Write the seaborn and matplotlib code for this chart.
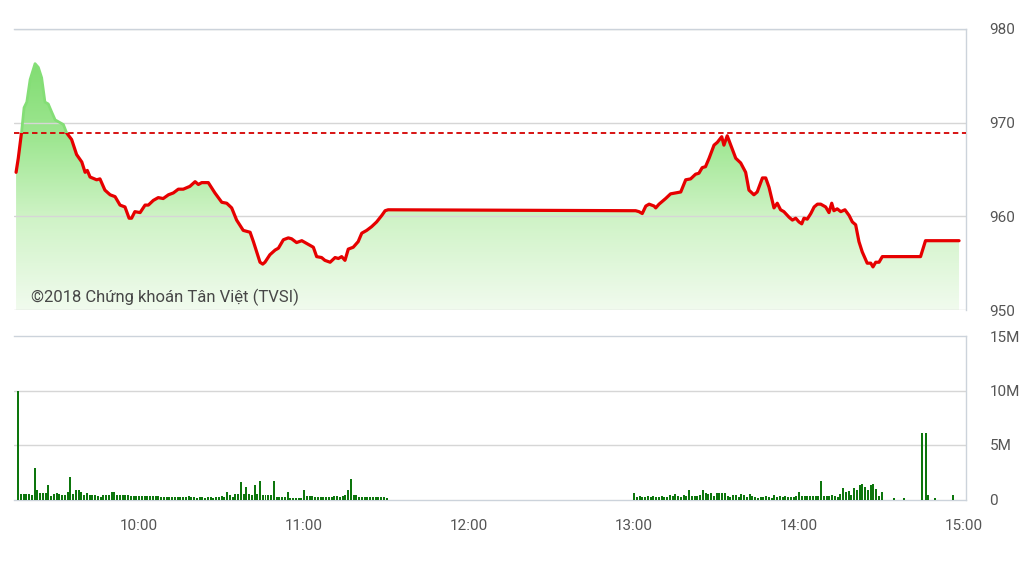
import numpy as np
import matplotlib
matplotlib.use("Agg")
import matplotlib.pyplot as plt
import seaborn as sns
from matplotlib.patches import Rectangle, Polygon
from matplotlib.colors import LinearSegmentedColormap

# ---------------- DATA ----------------
# price: minutes after 09:15 and index value
price_min = [0.3, 1.1, 2.3, 3.2, 4.2, 5.4, 7.2, 8.4, 9.6, 10.8, 12.0, 13.3, 14.5, 16.3, 17.5, 18.7,
             20.5, 22.3, 24.2, 25.4, 26.2, 27.2, 29.6, 30.8, 32.6, 34.5, 36.3, 38.1, 39.9, 41.4, 42.3,
             43.5, 45.4, 47.2, 48.4, 50.2, 52.0, 53.8, 55.7, 57.5, 59.3, 61.1, 63.5, 65.4, 66.6, 67.8,
             70.2, 72.6, 75.1, 76.9, 78.7, 80.5, 82.9, 85.4, 86.6, 87.8, 89.0, 90.0, 90.8, 92.6, 94.5,
             95.7, 97.5, 99.3, 100.5, 102.3, 104.2, 105.4, 107.2, 108.4, 109.6, 111.4, 112.6, 114.5,
             116.3, 117.5, 118.7, 119.9, 121.1, 122.9, 124.7, 126.0, 127.8, 129.6, 131.4, 133.3, 134.5,
             135.6, 224.5,
             225.6, 226.8, 228.0, 229.3, 230.5, 232.3, 232.9, 234.1, 236.5, 238.3, 240.1, 242.0, 243.8,
             245.6, 247.4, 248.6, 249.8, 251.0, 252.3, 254.1, 255.3, 256.9, 257.7, 258.9, 260.2, 262.0,
             263.8, 265.6, 266.8, 268.6, 269.8, 271.7, 272.9, 274.1, 275.9, 277.1, 278.3, 279.5, 281.4,
             282.6, 283.8, 285.0, 286.0, 286.8, 288.0, 289.3, 290.5, 291.7, 292.9, 294.7, 295.9, 296.9,
             297.7, 298.9, 300.2, 301.7, 303.2, 304.4, 305.6, 306.8, 308.0, 309.8, 311.1, 311.9, 312.9,
             314.1, 315.3, 329.2, 331.0, 343.2]
price_val = [964.7, 966.2, 969.0, 971.6, 972.2, 974.6, 976.3, 975.9, 974.8, 972.2, 972.0, 971.1, 970.3,
             970.0, 969.8, 968.9, 968.2, 966.6, 965.8, 964.7, 964.9, 964.2, 963.9, 964.0, 962.8, 962.3,
             962.1, 961.2, 961.0, 959.8, 959.8, 960.5, 960.4, 961.2, 961.2, 961.7, 962.0, 961.9, 962.3,
             962.5, 962.9, 962.9, 963.2, 963.7, 963.4, 963.6, 963.6, 962.5, 961.5, 961.4, 960.9, 959.6,
             958.5, 958.3, 957.3, 956.2, 955.1, 954.9, 955.1, 955.9, 956.4, 956.6, 957.5, 957.7, 957.6,
             957.2, 957.4, 957.2, 956.9, 956.7, 955.7, 955.6, 955.3, 955.1, 955.6, 955.5, 955.7, 955.3,
             956.5, 956.7, 957.3, 958.2, 958.5, 958.9, 959.4, 960.1, 960.6, 960.7, 960.6,
             960.6, 960.5, 960.3, 961.1, 961.3, 961.1, 960.9, 961.3, 961.9, 962.4, 962.5, 962.6, 963.9,
             964.0, 964.5, 964.6, 965.2, 965.3, 966.2, 967.6, 967.9, 968.5, 967.6, 968.6, 967.6, 966.2,
             965.7, 964.7, 962.8, 962.3, 962.6, 964.1, 964.1, 963.1, 960.9, 961.4, 960.7, 960.5, 959.9,
             959.6, 959.8, 959.4, 959.2, 959.8, 959.7, 960.3, 961.0, 961.3, 961.3, 961.0, 960.4, 961.4,
             960.6, 960.8, 960.5, 960.7, 960.1, 959.4, 959.1, 957.3, 956.2, 955.0, 955.0, 954.6, 955.1,
             955.1, 955.7, 955.7, 957.4, 957.4]
ref_price = 968.9

# volume (millions): morning per minute 09:16..11:30
vol_am = [10.0, 0.55, 0.55, 0.55, 0.5, 0.4, 2.9, 0.85, 0.6, 0.6,
          0.6, 1.3, 0.3, 0.55, 0.6, 0.55, 0.4, 0.4, 0.7, 2.1,
          0.55, 0.85, 0.85, 0.7, 0.4, 0.6, 0.4, 0.4, 0.4, 0.3,
          0.25, 0.45, 0.4, 0.4, 0.65, 0.65, 0.4, 0.4, 0.4, 0.4,
          0.4, 0.3, 0.35, 0.35, 0.3, 0.35, 0.35, 0.3, 0.35, 0.35,
          0.3, 0.35, 0.25, 0.25, 0.2, 0.25, 0.25, 0.2, 0.25, 0.25,
          0.2, 0.25, 0.3, 0.2, 0.2, 0.15, 0.2, 0.2, 0.15, 0.2,
          0.2, 0.15, 0.2, 0.2, 0.35, 0.2, 0.67, 0.4, 0.25, 0.55,
          0.55, 1.6, 0.55, 1.15, 0.55, 0.4, 1.3, 0.55, 1.7, 0.4,
          0.4, 0.4, 0.4, 1.7, 0.2, 0.25, 0.25, 0.25, 0.67, 0.15,
          0.15, 0.15, 0.15, 0.1, 0.85, 0.35, 0.35, 0.35, 0.25, 0.25,
          0.2, 0.25, 0.25, 0.2, 0.25, 0.3, 0.3, 0.25, 0.3, 0.4,
          0.85, 1.85, 0.4, 0.4, 0.2, 0.25, 0.2, 0.25, 0.25, 0.2,
          0.25, 0.2, 0.25, 0.2, 0.15]
# afternoon per minute 13:00..14:30
vol_pm = [0.6, 0.2, 0.3, 0.2, 0.25, 0.35, 0.25, 0.3, 0.2, 0.25,
          0.3, 0.2, 0.25, 0.4, 0.3, 0.55, 0.3, 0.25, 0.4, 0.3,
          0.85, 0.3, 0.35, 0.3, 0.4, 0.85, 0.6, 0.55, 0.6, 0.3,
          0.6, 0.6, 0.6, 0.6, 0.3, 0.2, 0.45, 0.4, 0.2, 0.55,
          0.4, 0.2, 0.55, 0.3, 0.2, 0.15, 0.25, 0.2, 0.35, 0.2,
          0.15, 0.4, 0.25, 0.3, 0.25, 0.3, 0.25, 0.2, 0.25, 0.3,
          0.65, 0.3, 0.35, 0.35, 0.3, 0.35, 0.3, 0.35, 1.7, 0.3,
          0.35, 0.3, 0.45, 0.3, 0.25, 0.55, 1.1, 0.7, 0.8, 0.45,
          1.1, 0.85, 1.3, 1.4, 1.15, 0.85, 1.3, 1.4, 1.0, 0.3, 0.7]
# late trades: minutes after 09:15
vol_late_min = [319.5, 323.0, 329.7, 331.0, 332.0, 334.3, 340.9]
vol_late = [0.1, 0.1, 6.1, 6.1, 0.4, 0.1, 0.4]

price_ticks = [950, 960, 970, 980]
vol_ticks = [0, 5, 10, 15]
vol_labels = ["0", "5M", "10M", "15M"]
time_ticks = [10, 11, 12, 13, 14, 15]
time_labels = ["10:00", "11:00", "12:00", "13:00", "14:00", "15:00"]
credit = "©2018 Chứng khoán Tân Việt (TVSI)"

# ---------------- PLOT ----------------
sns.set_style("white")
plt.rcParams['font.family'] = ['Roboto', 'DejaVu Sans']

W, H = 1029, 578
fig = plt.figure(figsize=(W / 100, H / 100), dpi=100)
ax1 = fig.add_axes([14 / W, 1 - 310 / H, (966 - 14) / W, (310 - 29) / H])
ax2 = fig.add_axes([14 / W, 1 - 499.5 / H, (966 - 14) / W, (499.5 - 336) / H])

def to_h(m):
    return 9.25 + np.asarray(m, dtype=float) / 60.0

t = to_h(price_min)
p = np.asarray(price_val)
xmin = 9.25 + (14 - 15.25) / 165
xmax = 9.25 + (966 - 15.25) / 165

# gradient fill under the line
cmap = LinearSegmentedColormap.from_list(
    'g', [(0.0, '#f1fbee'), (0.33, '#cff3c6'), (0.6, '#a0e793'), (1.0, '#74d864')])
grad = np.linspace(0, 1, 256).reshape(-1, 1)
im = ax1.imshow(grad, extent=[xmin, xmax, 950, 980], origin='lower', aspect='auto',
                cmap=cmap, zorder=1, interpolation='bilinear')
verts = np.column_stack([np.r_[t[0], t, t[-1]], np.r_[950, p, 950]])
poly = Polygon(verts, closed=True, transform=ax1.transData, facecolor='none', edgecolor='none')
ax1.add_patch(poly)
im.set_clip_path(poly)

# price line: red below reference, green above
sns.lineplot(x=t, y=p, ax=ax1, color='#e60000', linewidth=2.3, estimator=None, sort=False, zorder=4)
red_line = ax1.lines[-1]
red_line.set_clip_path(Rectangle((xmin, 900), xmax - xmin, ref_price - 900, transform=ax1.transData))
sns.lineplot(x=t, y=p, ax=ax1, color='#84de76', linewidth=2.0, estimator=None, sort=False, zorder=3)
grn_line = ax1.lines[-1]
grn_line.set_clip_path(Rectangle((xmin, ref_price), xmax - xmin, 100, transform=ax1.transData))

ax1.axhline(ref_price, color='#d40000', linestyle=(0, (3, 2)), linewidth=1.3, zorder=5)

for v in price_ticks:
    ax1.axhline(v, color='#d6d6d6', linewidth=1.0, zorder=2)

ax1.set_xlim(xmin, xmax)
ax1.set_ylim(950, 980)
ax1.set_xticks([])
ax1.yaxis.tick_right()
ax1.set_yticks(price_ticks)
ax1.set_yticklabels([str(v) for v in price_ticks])
ax1.tick_params(axis='y', length=0, pad=17, labelsize=11, labelcolor='#555555')
for s in ['left', 'bottom']:
    ax1.spines[s].set_visible(False)
for s in ['top', 'right']:
    ax1.spines[s].set_color('#ccd3db')
    ax1.spines[s].set_linewidth(1.0)

ax1.text((31 - 14) / 952, (310 - 297) / 281, credit, transform=ax1.transAxes,
         fontsize=12.0, color='#474747', va='center', ha='left', zorder=6)

# volume bars
bw = 2.0 / 165
am_t = to_h(np.arange(1, len(vol_am) + 1))
pm_t = to_h(225 + np.arange(len(vol_pm)))
late_t = to_h(vol_late_min)
bar_c = '#0d760d'
for xs, vs in [(am_t, vol_am), (pm_t, vol_pm), (late_t, vol_late)]:
    ax2.bar(xs, vs, width=bw, color=bar_c, edgecolor='none', linewidth=0, zorder=3)

for v in [5, 10]:
    ax2.axhline(v, color='#d6d6d6', linewidth=1.0, zorder=1)

ax2.set_xlim(xmin, xmax)
ax2.set_ylim(0, 15)
ax2.yaxis.tick_right()
ax2.set_yticks(vol_ticks)
ax2.set_yticklabels(vol_labels)
ax2.tick_params(axis='y', length=0, pad=17, labelsize=11, labelcolor='#555555')
ax2.set_xticks(time_ticks)
ax2.set_xticklabels(time_labels)
ax2.tick_params(axis='x', length=11, width=1, color='#ccd3db', pad=3,
                labelsize=11, labelcolor='#555555', direction='out')
ax2.spines['left'].set_visible(False)
for s in ['top', 'right', 'bottom']:
    ax2.spines[s].set_color('#ccd3db')
    ax2.spines[s].set_linewidth(1.0)

fig.savefig('out.png', dpi=100, facecolor='white')
